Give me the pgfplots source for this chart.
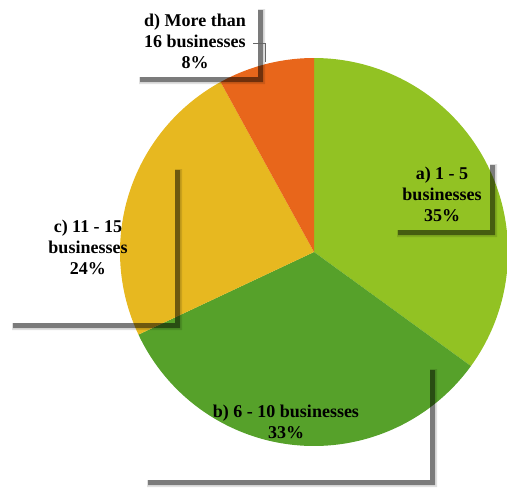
\documentclass[border=0pt]{standalone}
\usepackage{pgfplots}
\usepackage{pgfplotstable}
\pgfplotsset{compat=1.18}
\usepackage{fontspec}
\setmainfont{Liberation Serif}
\definecolor{cA}{HTML}{92C223}
\definecolor{cB}{HTML}{56A12A}
\definecolor{cC}{HTML}{E7B820}
\definecolor{cD}{HTML}{E8661B}

\pgfplotstableread{
id value
a 35
b 33
c 24
d 8
}\piedata

\tikzset{lbl/.style={font=\bfseries\fontsize{18}{21}\selectfont,align=center,inner sep=0pt}}

% shadow of a label box given in pixel coordinates (x1,y1) top-left, (x2,y2) bottom-right
\newcommand\lshadow[4]{%
  \fill[black,opacity=0.12] (axis cs:#3,#2+4) -- (axis cs:#3+7,#2+4) -- (axis cs:#3+7,#4+7) -- (axis cs:#1+4,#4+7) -- (axis cs:#1+4,#4) -- (axis cs:#3,#4) -- cycle;
  \fill[black,opacity=0.45] (axis cs:#3,#2+5) -- (axis cs:#3+5,#2+5) -- (axis cs:#3+5,#4+5) -- (axis cs:#1+5,#4+5) -- (axis cs:#1+5,#4) -- (axis cs:#3,#4) -- cycle;
}

\begin{document}
\begin{tikzpicture}
\pgfplotstablegetelem{0}{value}\of\piedata \pgfmathsetmacro\aA{90-3.6*\pgfplotsretval}
\pgfplotstablegetelem{1}{value}\of\piedata \pgfmathsetmacro\aB{\aA-3.6*\pgfplotsretval}
\pgfplotstablegetelem{2}{value}\of\piedata \pgfmathsetmacro\aC{\aB-3.6*\pgfplotsretval}
\pgfplotstablegetelem{3}{value}\of\piedata \pgfmathsetmacro\aD{\aC-3.6*\pgfplotsretval}
\begin{axis}[width=507pt,height=490pt,scale only axis,
  xmin=0,xmax=507,ymin=0,ymax=490,y dir=reverse,hide axis]
\path[use as bounding box] (axis cs:0,0) rectangle (axis cs:507,490);
\addplot[fill=cA,draw=none,domain=90:\aA,samples=120] ({314+194*cos(x)},{252-194*sin(x)}) -- (axis cs:314,252) -- cycle;
\addplot[fill=cB,draw=none,domain=\aA:\aB,samples=120] ({314+194*cos(x)},{252-194*sin(x)}) -- (axis cs:314,252) -- cycle;
\addplot[fill=cC,draw=none,domain=\aB:\aC,samples=120] ({314+194*cos(x)},{252-194*sin(x)}) -- (axis cs:314,252) -- cycle;
\addplot[fill=cD,draw=none,domain=\aC:\aD,samples=60] ({314+194*cos(x)},{252-194*sin(x)}) -- (axis cs:314,252) -- cycle;

\lshadow{393}{160}{490}{230}
\lshadow{8}{165}{175}{323}
\lshadow{143}{365}{430}{480}
\lshadow{135}{5}{258}{77}
\draw[black!60,line width=0.8pt] (axis cs:253,43) -- (axis cs:265,43) -- (axis cs:265,62);

\node[lbl] at (axis cs:442,194) {a) 1 - 5\\businesses\\35\%};
\node[lbl] at (axis cs:286,422) {b) 6 - 10 businesses\\33\%};
\node[lbl] at (axis cs:88,247) {c) 11 - 15\\businesses\\24\%};
\node[lbl] at (axis cs:195,41) {d) More than\\16 businesses\\8\%};
\end{axis}
\end{tikzpicture}
\end{document}
